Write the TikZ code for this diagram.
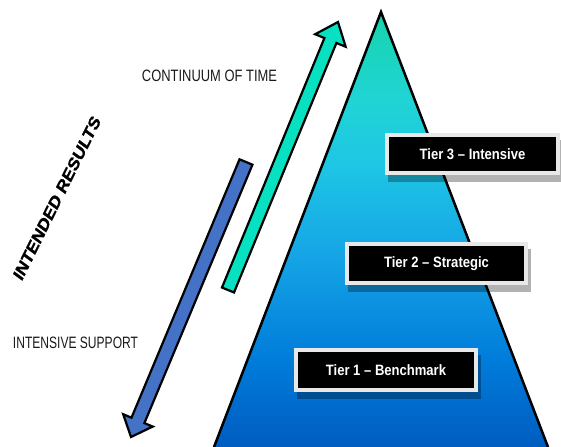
\documentclass[tikz,border=0pt]{standalone}
\usepackage{fontspec}
\setmainfont{Liberation Sans}
\newfontfamily\heavyfont[FakeBold=1.2]{Liberation Sans}
\usetikzlibrary{calc}

\pgfdeclarelayer{back}
\pgfsetlayers{back,main}

% colours
\definecolor{tealfill}{RGB}{8,224,194}
\definecolor{bluefill}{RGB}{68,114,198}
\definecolor{framegray}{RGB}{232,232,232}
\definecolor{pyrA}{RGB}{22,212,172}
\definecolor{pyrB}{RGB}{32,212,212}
\definecolor{pyrC}{RGB}{30,198,228}
\definecolor{pyrD}{RGB}{22,166,230}
\definecolor{pyrE}{RGB}{0,124,218}
\definecolor{pyrF}{RGB}{0,92,192}

% top-to-bottom colour ramp of the pyramid
\pgfdeclareverticalshading{pyramidramp}{100bp}{%
  color(0bp)=(pyrF); color(25bp)=(pyrF); color(35bp)=(pyrE);
  color(47.5bp)=(pyrD); color(57.5bp)=(pyrC); color(65bp)=(pyrB);
  color(75bp)=(pyrA); color(100bp)=(pyrA)}

% block arrow: #1 tail, #2 tip, #3 shaft half width, #4 head half width,
% #5 head length, #6 style
\newcommand\fatarrow[6]{%
  \coordinate (#1-h) at ($(#2)!#5!(#1)$);
  \path[#6] ($(#1)!#3!90:(#2)$) -- ($(#1-h)!#3!90:(#2)$) -- ($(#1-h)!#4!90:(#2)$)
    -- (#2) -- ($(#1-h)!#4!-90:(#2)$) -- ($(#1-h)!#3!-90:(#2)$)
    -- ($(#1)!#3!-90:(#2)$) -- cycle;
}

\tikzset{
  tierbox/.style={fill=black, draw=framegray, line width=4bp, inner sep=0pt,
    text=white, font=\bfseries\fontsize{15bp}{18bp}\selectfont},
  tiershadow/.style={fill=black, opacity=0.3},
  arrowline/.style={draw=black, line width=2.2bp, line join=miter},
  plainlabel/.style={inner sep=0pt, text=black!90},
}

\newcommand\tiertext[1]{\scalebox{0.87}[1]{#1}}

\begin{document}
\begin{tikzpicture}[x=1bp,y=-1bp]
  \useasboundingbox (0,0) rectangle (561,447);

  % pyramid
  \coordinate (apex) at (381,12);
  \coordinate (baseL) at (214,447);
  \coordinate (baseR) at (548,447);
  \draw[line width=2.5bp, line join=miter] (baseL) -- (apex) -- (baseR);

  % the two block arrows
  \coordinate (blueTail) at (246,162);
  \coordinate (blueTip) at (131,437);
  \fatarrow{blueTail}{blueTip}{7bp}{16bp}{18bp}{arrowline, fill=bluefill}

  \coordinate (tealTail) at (228,290);
  \coordinate (tealTip) at (338,22);
  \fatarrow{tealTail}{tealTip}{6.5bp}{16.5bp}{20bp}{arrowline, fill=tealfill}

  % tier boxes
  \node[tierbox, minimum width=171bp, minimum height=38bp] (tier3) at (472.5,154)
    {\tiertext{Tier 3 – Intensive}};
  \node[tierbox, minimum width=179bp, minimum height=39bp] (tier2) at (436.5,263.5)
    {\tiertext{Tier 2 – Strategic}};
  \node[tierbox, minimum width=180bp, minimum height=40bp] (tier1) at (386,370)
    {\tiertext{Tier 1 – Benchmark}};

  \begin{pgfonlayer}{back}
    \shade[shading=pyramidramp] (apex) -- (baseL) -- (baseR) -- cycle;
    \foreach \t in {tier1,tier2,tier3}
      \fill[tiershadow] ($(\t.south west)+(3,7)$) rectangle ($(\t.north east)+(3,7)$);
  \end{pgfonlayer}

  % free labels
  \node[plainlabel] (timeLabel) at (209.5,76)
    {\resizebox{135bp}{11.5bp}{CONTINUUM OF TIME}};
  \node[plainlabel] (supportLabel) at (75.5,342.5)
    {\resizebox{125bp}{11.5bp}{INTENSIVE SUPPORT}};
  \begin{scope}[xscale=0.82]
    \node[plainlabel, text=black, transform shape, rotate=58.9,
      font=\heavyfont\bfseries\fontsize{18.8bp}{20bp}\selectfont]
      (resultsLabel) at (69.5,198) {INTENDED RESULTS};
  \end{scope}
\end{tikzpicture}
\end{document}
